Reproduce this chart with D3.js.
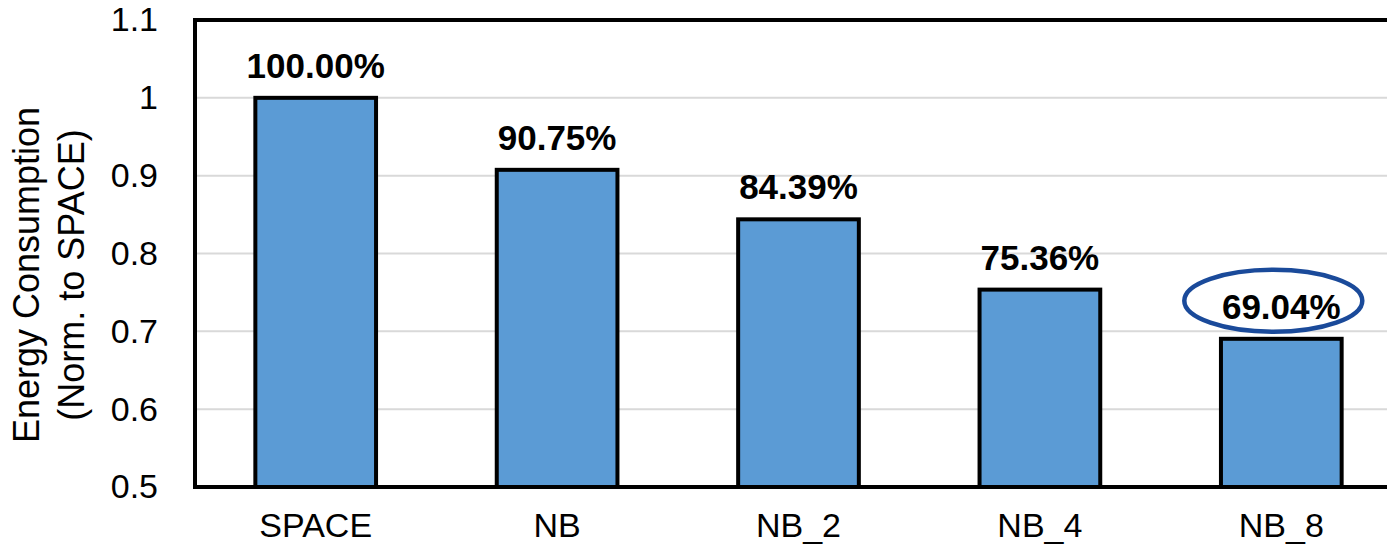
<!DOCTYPE html>
<html>
<head>
<meta charset="utf-8">
<script src="https://cdn.jsdelivr.net/npm/d3@7"></script>
<style>
  html, body { margin: 0; padding: 0; background: #fff; }
  svg { display: block; font-family: "Liberation Sans", Arial, sans-serif; }
</style>
</head>
<body>
<div class="chart-wrapper"></div>
<script>
// data
const categories = ['SPACE', 'NB', 'NB_2', 'NB_4', 'NB_8'];
const energy = [1.0, 0.9075, 0.8439, 0.7536, 0.6904];
const yTicks = [0.5, 0.6, 0.7, 0.8, 0.9, 1, 1.1];
const highlighted = 'NB_8';

const width = 1387;
const height = 547;
const margin = {top: 20, right: -15, bottom: 60, left: 195};

const svg = d3.select('.chart-wrapper')
  .append('svg')
  .attr('width', width)
  .attr('height', height);

const x = d3.scaleBand()
  .domain(categories)
  .range([margin.left, width - margin.right])
  .paddingInner(0.5)
  .paddingOuter(0.25);

const y = d3.scaleLinear()
  .domain([0.5, 1.1])
  .range([height - margin.bottom, margin.top]);

const pct = d3.format('.2%');

// gridlines
svg.append('g')
  .selectAll('line')
  .data(yTicks.slice(1, -1))
  .enter()
  .append('line')
  .attr('x1', margin.left)
  .attr('x2', width - margin.right)
  .attr('y1', d => y(d))
  .attr('y2', d => y(d))
  .attr('stroke', '#d9d9d9')
  .attr('stroke-width', 2);

// y axis labels
const yAxis = svg.append('g')
  .attr('transform', `translate(${margin.left},0)`)
  .call(d3.axisLeft(y).tickValues(yTicks).tickSize(0).tickPadding(37).tickFormat(d3.format('')));
yAxis.select('.domain').remove();
yAxis.selectAll('text')
  .attr('font-family', '"Liberation Sans", Arial, sans-serif')
  .attr('font-size', 34)
  .attr('fill', '#000');

// x axis labels
const xAxis = svg.append('g')
  .attr('transform', `translate(0,${height - margin.bottom})`)
  .call(d3.axisBottom(x).tickSize(0).tickPadding(26));
xAxis.select('.domain').remove();
xAxis.selectAll('text')
  .attr('font-family', '"Liberation Sans", Arial, sans-serif')
  .attr('font-size', 34)
  .attr('fill', '#000');

// bars
svg.append('g')
  .selectAll('rect')
  .data(energy)
  .enter()
  .append('rect')
  .attr('x', (d, i) => x(categories[i]))
  .attr('y', d => y(d))
  .attr('width', x.bandwidth())
  .attr('height', d => y(0.5) - y(d))
  .attr('fill', '#5b9bd5')
  .attr('stroke', '#000')
  .attr('stroke-width', 4);

// frame (left, top, bottom)
const x0 = margin.left, x1 = width - margin.right;
svg.append('path')
  .attr('d', `M${x1},${y(1.1)}H${x0}V${y(0.5)}H${x1}`)
  .attr('fill', 'none')
  .attr('stroke', '#000')
  .attr('stroke-width', 4);

// value labels
svg.append('g')
  .selectAll('text')
  .data(energy)
  .enter()
  .append('text')
  .attr('x', (d, i) => x(categories[i]) + x.bandwidth() / 2)
  .attr('y', d => y(d) - 20)
  .attr('text-anchor', 'middle')
  .attr('font-size', 35)
  .attr('font-weight', 'bold')
  .text(d => pct(d));

// highlight ellipse
const hi = categories.indexOf(highlighted);
svg.append('ellipse')
  .attr('cx', x(highlighted) + x.bandwidth() / 2 - 8)
  .attr('cy', y(energy[hi]) - 38)
  .attr('rx', 89)
  .attr('ry', 31)
  .attr('fill', 'none')
  .attr('stroke', '#1a4a9a')
  .attr('stroke-width', 4.5);

// y title
const yTitle = svg.append('text')
  .attr('transform', `translate(39,275) rotate(-90)`)
  .attr('text-anchor', 'middle')
  .attr('font-size', 36);
yTitle.append('tspan').attr('x', 0).attr('dy', 0).text('Energy Consumption');
yTitle.append('tspan').attr('x', 0).attr('dy', 45).text('(Norm. to SPACE)');
</script>
</body>
</html>
